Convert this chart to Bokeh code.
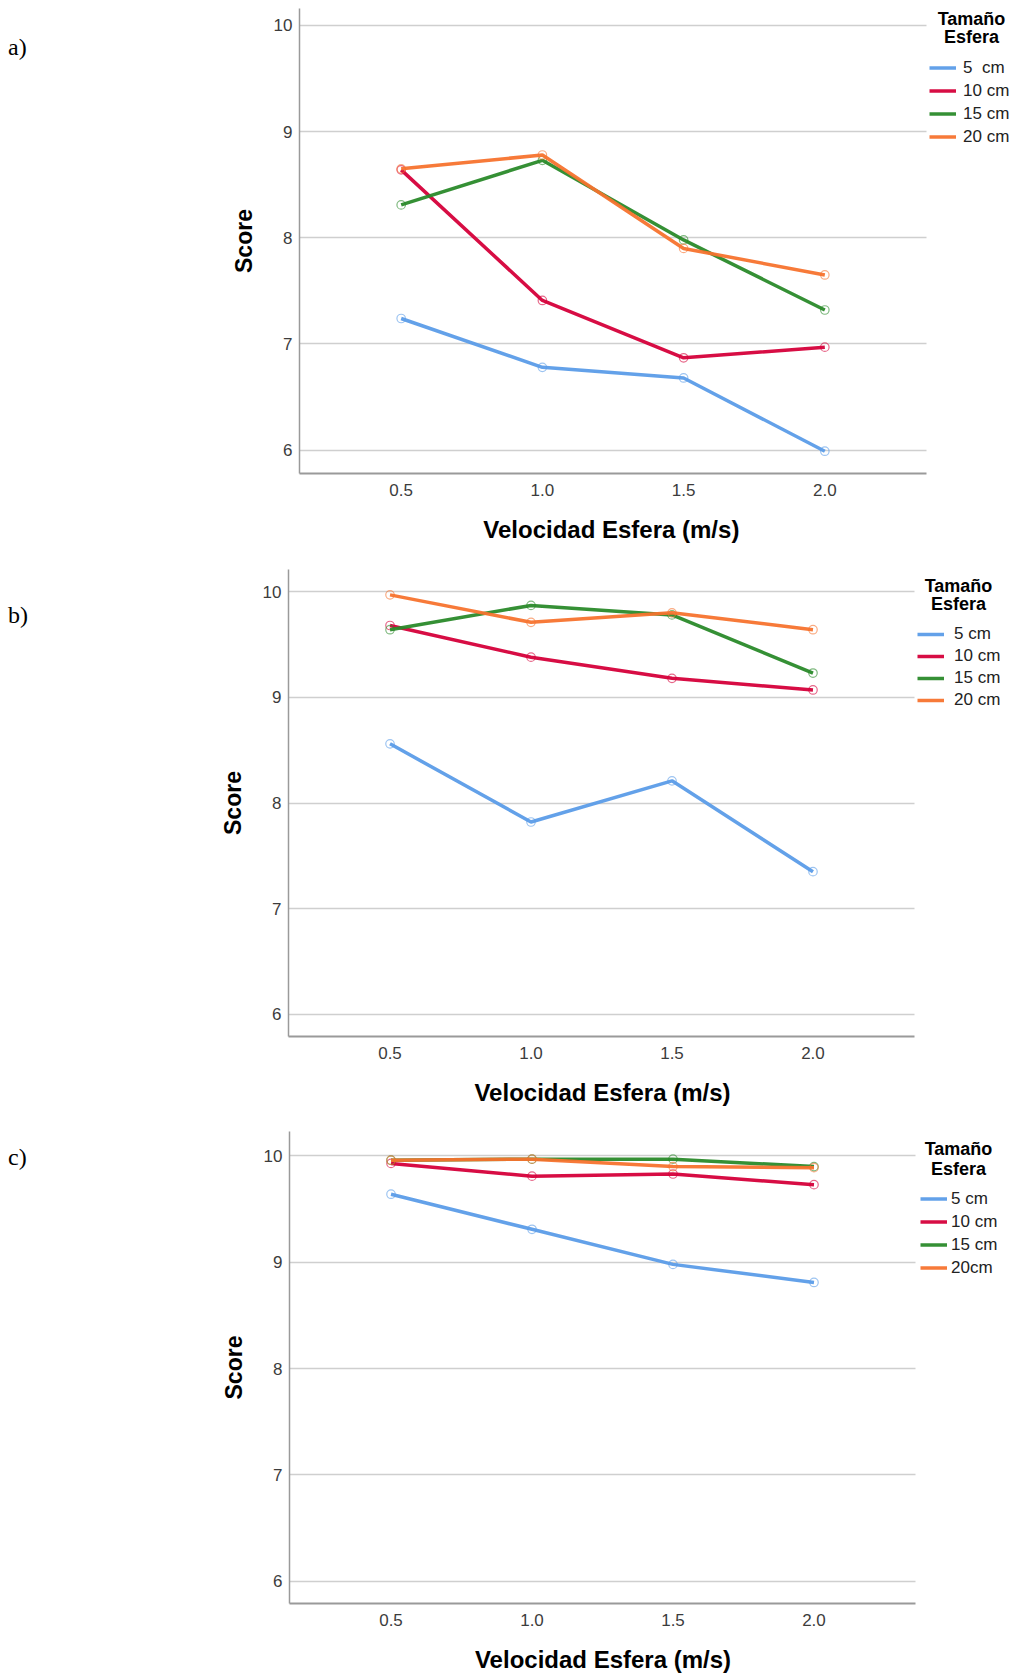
from bokeh.plotting import figure
from bokeh.layouts import column, row
from bokeh.models import (Range1d, Legend, LegendItem, FixedTicker, NumeralTickFormatter,
                          Div, Label)
from bokeh.embed import file_html
from bokeh.resources import INLINE

# ---------------- data ----------------
speeds = [0.5, 1.0, 1.5, 2.0]
y_ticks = [6, 7, 8, 9, 10]

x_title = "Velocidad Esfera (m/s)"
y_title = "Score"
legend_title_1 = "Tamaño"
legend_title_2 = "Esfera"
labels_a = ["5  cm", "10 cm", "15 cm", "20 cm"]
labels_b = ["5 cm", "10 cm", "15 cm", "20 cm"]
labels_c = ["5 cm", "10 cm", "15 cm", "20cm"]

a_5 = [7.24, 6.78, 6.68, 5.99]
a_10 = [8.64, 7.41, 6.87, 6.97]
a_15 = [8.31, 8.73, 7.98, 7.32]
a_20 = [8.65, 8.78, 7.90, 7.65]

b_5 = [8.56, 7.82, 8.21, 7.35]
b_10 = [9.68, 9.38, 9.18, 9.07]
b_15 = [9.64, 9.87, 9.78, 9.23]
b_20 = [9.97, 9.71, 9.80, 9.64]

c_5 = [9.64, 9.31, 8.98, 8.81]
c_10 = [9.93, 9.81, 9.83, 9.73]
c_15 = [9.96, 9.97, 9.97, 9.90]
c_20 = [9.96, 9.97, 9.90, 9.89]

colors = ["#5b9ce8", "#d5003a", "#2a8a2a", "#f7732e"]

FONT = "Liberation Sans"
TAG_W = 40
W = 1016
X_LO, X_HI = 0.14, 2.36
NBSP = "\u00a0"


def make_panel(tag, series, labels, height, b_top, b_bottom, frame_left, axis_right,
               y_lo, y_hi, leg_x, leg_top, leg_gap, leg_standoff, title_cx, title_y1, title_y2,
               tag_y, xtitle_pad):
    # plot area spans to the right edge so that the legend is inside it;
    # the axis line and grid lines stop at X_HI
    x_end = X_LO + (W - frame_left) / (axis_right - frame_left) * (X_HI - X_LO)
    frame_h = height - b_top - b_bottom
    p = figure(width=W - TAG_W, height=height, output_backend="svg",
               toolbar_location=None,
               x_range=Range1d(X_LO, x_end), y_range=Range1d(y_lo, y_hi),
               min_border_top=b_top, min_border_bottom=b_bottom,
               min_border_left=frame_left - TAG_W, min_border_right=0)
    p.outline_line_color = None
    p.background_fill_color = "white"
    p.border_fill_color = "white"

    p.xaxis.ticker = FixedTicker(ticks=speeds)
    p.xaxis.formatter = NumeralTickFormatter(format="0.0")
    p.xaxis.bounds = (X_LO, X_HI)
    p.yaxis.ticker = FixedTicker(ticks=y_ticks)
    for ax in (p.xaxis[0], p.yaxis[0]):
        ax.major_tick_in = 0
        ax.major_tick_out = 0
        ax.minor_tick_in = 0
        ax.minor_tick_out = 0
        ax.axis_line_color = "#9a9a9a"
        ax.major_label_text_font = FONT
        ax.major_label_text_font_size = "17px"
        ax.major_label_text_color = "#3c3c3c"
        ax.axis_label_text_font = FONT
        ax.axis_label_text_font_style = "bold"
        ax.axis_label_text_color = "#000000"
    p.xaxis.axis_label_text_font_size = "24px"
    p.yaxis.axis_label_text_font_size = "23px"
    p.xaxis.axis_line_width = 2
    p.yaxis.axis_line_width = 1.5
    # the axis title is centred on the whole plot area; trailing no-break spaces
    # move it back to the centre of the drawn axis
    p.xaxis.axis_label = x_title + NBSP * xtitle_pad
    p.yaxis.axis_label = y_title
    p.xaxis.major_label_standoff = 10
    p.xaxis.axis_label_standoff = 17
    p.yaxis.major_label_standoff = 7
    p.yaxis.axis_label_standoff = 14

    p.xgrid.grid_line_color = None
    try:
        p.ygrid.cross_bounds = (X_LO, X_HI)
        p.ygrid.ticker = FixedTicker(ticks=y_ticks)
        p.ygrid.grid_line_color = "#cfcfcf"
        p.ygrid.grid_line_width = 1.5
    except Exception:
        p.ygrid.grid_line_color = None
        p.segment(x0=[X_LO] * len(y_ticks), x1=[X_HI] * len(y_ticks), y0=y_ticks, y1=y_ticks,
                  line_color="#cfcfcf", line_width=1.5, level="underlay")

    items = []
    for vals, col, lab in zip(series, colors, labels):
        r = p.line(speeds, vals, line_color=col, line_width=3.5, line_alpha=0.95)
        p.scatter(speeds, vals, marker="circle", size=8.5, fill_color=None,
                  line_color=col, line_width=1.2, line_alpha=0.6)
        items.append(LegendItem(label=lab, renderers=[r]))

    leg_h = leg_gap * len(items)
    legend = Legend(items=items,
                    location=(leg_x - frame_left, frame_h - (leg_top - b_top) - leg_h),
                    orientation="vertical", padding=0, margin=0, spacing=0,
                    glyph_width=27, glyph_height=leg_gap, label_height=leg_gap,
                    label_standoff=leg_standoff, label_text_font=FONT,
                    label_text_font_size="17px", label_text_color="#222222",
                    border_line_color=None, background_fill_alpha=0)
    p.add_layout(legend)
    for txt, ty in ((legend_title_1, title_y1), (legend_title_2, title_y2)):
        p.add_layout(Label(x=title_cx - frame_left, y=frame_h - (ty - b_top), x_units="screen",
                           y_units="screen", text=txt, text_font=FONT,
                           text_font_style="bold", text_font_size="18px",
                           text_align="center", text_baseline="middle",
                           text_color="#000000"))

    div = Div(text=('<div style="position:relative; left:8px; top:%dpx; '
                    'font-family:\'Liberation Serif\'; font-size:24px; color:#000; '
                    'line-height:28px;">%s</div>') % (tag_y - 14, tag),
              width=TAG_W, height=height, margin=0)
    return row(div, p, spacing=0)


pa = make_panel("a)", [a_5, a_10, a_15, a_20], labels_a, 550, 8, 77, 299, 926,
                5.78, 10.16, 929, 56, 23, 7, 971, 18, 36, 47, 14)
pb = make_panel("b)", [b_5, b_10, b_15, b_20], labels_b, 560, 19, 74, 288, 914,
                5.79, 10.21, 917, 73, 22, 10, 958, 35, 53, 65, 15)
pc = make_panel("c)", [c_5, c_10, c_15, c_20], labels_c, 567, 21, 74, 289, 915,
                5.79, 10.23, 920, 77, 23, 4, 958, 38, 58, 47, 15)

layout = column(pa, pb, pc, spacing=0)
open("out.html", "w").write(file_html(layout, INLINE))
